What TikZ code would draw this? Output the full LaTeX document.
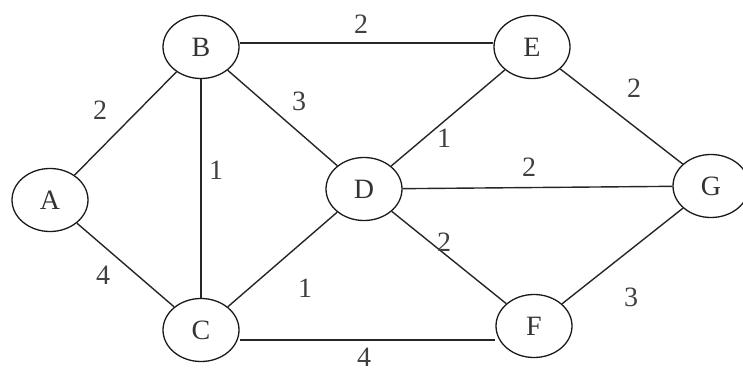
\documentclass[tikz,border=0pt]{standalone}
\usepackage{fontspec}
\setmainfont{Liberation Serif}
\usetikzlibrary{shapes.geometric}
\begin{document}
\begin{tikzpicture}[x=1pt,y=-1pt,
  vertex/.style={ellipse, draw=black!90, line width=1.3pt, minimum width=76pt, minimum height=63pt, inner sep=0pt, font=\fontsize{28}{30}\selectfont, text=black!80},
  edge/.style={line width=1.4pt, draw=black!85},
  wt/.style={font=\fontsize{28}{30}\selectfont, text=black!75, inner sep=0pt}]
\useasboundingbox (0,0) rectangle (743,371);
\node[vertex] (A) at (50,200) {A};
\node[vertex] (B) at (201,47) {B};
\node[vertex] (C) at (201,330) {C};
\node[vertex] (D) at (364,189) {D};
\node[vertex] (E) at (532,47) {E};
\node[vertex] (F) at (534,326) {F};
\node[vertex] (G) at (711,186) {G};
\draw[edge] (A) -- (B);
\draw[edge] (A) -- (C);
\draw[edge] (B) -- (C);
\draw[edge] (B) -- (D);
\draw[edge] ([yshift=4pt]B.east) -- ([yshift=4pt]B.east -| E.west);
\draw[edge] (C) -- (D);
\draw[edge] ([yshift=-10pt]C.east) -- ([yshift=-10pt]C.east -| F.west);
\draw[edge] (D) -- (E);
\draw[edge] (D) -- (G);
\draw[edge] (D) -- (F);
\draw[edge] (E) -- (G);
\draw[edge] (F) -- (G);
\node[wt] (wAB) at (100,110) {2};
\node[wt] (wBE) at (361,24) {2};
\node[wt] (wBD) at (299,101) {3};
\node[wt] (wBC) at (216,170) {1};
\node[wt] (wAC) at (103,275) {4};
\node[wt] (wCD) at (305,288) {1};
\node[wt] (wCF) at (364,357) {4};
\node[wt] (wDE) at (444,138) {1};
\node[wt] (wDG) at (529,167) {2};
\node[wt] (wEG) at (634,88) {2};
\node[wt] (wDF) at (444,242) {2};
\node[wt] (wFG) at (631,297) {3};
\end{tikzpicture}
\end{document}
